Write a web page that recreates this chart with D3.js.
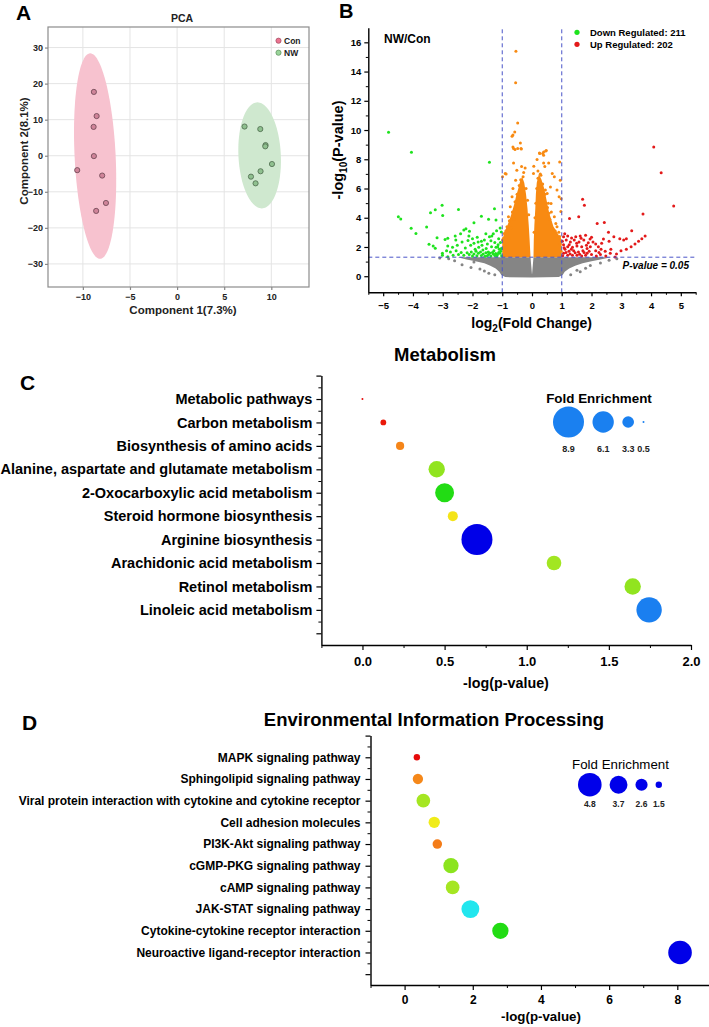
<!DOCTYPE html>
<html>
<head>
<meta charset="utf-8">
<script src="https://cdn.jsdelivr.net/npm/d3@7"></script>
<style>
  body { margin: 0; background: #fff; }
  svg { display: block; }
</style>
</head>
<body>
<svg id="fig" width="709" height="1027"></svg>
<script>
// ---------- data: A (PCA scores) ----------
const pcaCon = [[-8.83,17.7],[-8.54,11.0],[-8.86,8.0],[-8.83,-0.1],[-10.6,-4.0],[-7.95,-5.5],[-7.55,-13.1],[-8.59,-15.3]];
const pcaNW = [[7.16,8.1],[8.83,7.4],[9.39,2.96],[9.36,2.6],[10.07,-2.3],[8.86,-4.3],[7.84,-5.8],[8.33,-7.65]];
// confidence ellipses (centre, semi axes, lean of the long axis), in score units
const pcaEllipses = [
  {group: 'Con', cx: -8.7, cy: -0.1, rx: 2.18, ry: 28.5, lean: -0.52},
  {group: 'NW', cx: 8.76, cy: 0.1, rx: 2.25, ry: 14.7, lean: -0.23}
];
const pcaXTicks = [-10, -5, 0, 5, 10];
const pcaYTicks = [-30, -20, -10, 0, 10, 20, 30];

// ---------- data: B (volcano) ----------
const downRegulated = [[-4.82,9.84],[-4.05,8.48],[-1.43,7.8],[-4.49,4.07],[-4.41,3.92],[-4.06,3.28],[-3.9,2.93],[-3.54,3.37],
  [-3.41,4.35],[-3.25,4.55],[-3.02,4.86],[-3.0,4.16],[-2.47,4.57],[-3.46,2.19],[-3.32,2.07],[-3.19,2.64],[-3.01,1.57],[-2.83,2.07],
  [-2.83,2.6],[-2.58,2.75],[-2.56,2.48],[-2.29,3.16],[-2.22,3.25],[-2.1,3.07],[-2.12,2.75],[-2.0,2.57],[-1.95,3.66],[-1.7,4.11],
  [-1.46,3.89],[-1.26,4.61],[-1.21,3.84],[-1.19,3.11],[-1.84,2.66],[-1.81,2.34],[-1.6,2.48],[-1.43,2.7],[-1.38,2.43],[-1.35,2.75],
  [-2.35,2.34],[-2.51,2.11],[-2.67,1.98],[-3.25,1.91],[-2.87,1.75],[-2.74,1.66],[-2.24,1.93],[-2.06,2.11],[-1.91,1.84],[-1.79,1.98],
  [-1.68,2.11],[-1.65,1.8],[-1.54,1.89],[-1.47,1.66],[-1.36,2.02],[-1.28,1.75],[-1.21,1.98],[-1.14,2.16],[-1.1,1.84],[-1.08,1.57],
  [-1.16,1.48],[-1.3,1.52],[-1.46,1.48],[-1.64,1.52],[-1.8,1.57],[-1.95,1.52],[-2.11,1.48],[-2.29,1.43],[-2.47,1.48],[-2.65,1.43],
  [-2.83,1.34],[-3.01,1.43],[-1.06,2.3],[-1.12,2.57],[-1.03,3.02],[-1.07,3.29],[-2.92,2.52],[-1.02,1.4],[-1.05,1.7],[-1.12,1.62],
  [-1.18,1.38],[-1.22,1.55],[-1.25,1.42],[-1.33,1.62],[-1.38,1.38],[-1.42,1.58],[-1.5,1.4],[-1.55,1.6],[-1.58,1.36],[-1.7,1.42],
  [-1.73,1.66],[-1.85,1.4],[-1.88,1.7],[-2.0,1.38],[-2.04,1.65],[-2.18,1.6],[-2.38,1.62],[-2.55,1.75],[-1.03,1.9],[-1.15,2.0],
  [-1.25,2.3],[-1.5,2.2],[-1.7,2.4],[-1.95,2.25],[-2.15,2.45],[-1.3,2.9],[-1.55,2.9],[-2.4,2.9]];
const upRegulated = [[4.09,8.84],[4.34,7.07],[4.76,4.8],[3.73,4.25],[1.7,5.27],[1.76,4.86],[1.26,3.95],[1.57,4.07],[2.19,3.61],
  [2.43,3.68],[3.35,3.11],[2.57,3.0],[2.75,2.7],[3.08,2.48],[3.17,2.57],[3.8,2.75],[3.69,2.57],[3.58,2.39],[3.46,2.2],[3.33,2.02],
  [3.17,1.84],[2.99,1.75],[2.84,1.52],[2.79,1.32],[2.63,1.57],[2.46,1.7],[2.32,1.84],[2.23,2.02],[2.14,1.75],[2.05,2.34],[2.0,2.66],
  [1.8,2.8],[1.62,2.75],[1.47,2.7],[1.33,2.61],[1.2,2.75],[1.06,2.7],[1.15,2.48],[1.29,2.34],[1.42,2.48],[1.58,2.34],[1.74,2.48],
  [1.89,2.29],[1.96,2.02],[1.83,2.11],[1.67,2.02],[1.51,2.07],[1.36,1.98],[1.2,2.02],[1.06,2.16],[1.11,1.84],[1.24,1.7],[1.4,1.75],
  [1.56,1.66],[1.71,1.75],[1.85,1.57],[2.0,1.48],[2.16,1.39],[2.3,1.48],[2.48,1.39],[1.06,1.57],[1.2,1.43],[1.36,1.43],[1.51,1.43],
  [1.67,1.39],[1.8,1.43],[1.85,1.89],[2.14,2.2],[2.34,2.25],[2.59,2.39],[2.95,2.57],[1.03,1.4],[1.08,1.95],[1.14,1.62],[1.28,1.52],
  [1.32,1.85],[1.45,1.6],[1.6,1.5],[1.75,1.62],[1.92,1.7],[1.02,2.4],[1.1,2.9],[1.25,2.15],[1.5,2.25],[1.65,2.6],[1.95,2.55],
  [2.25,1.62],[2.65,1.85],[2.4,2.55]];
// significant but |log2FC| < 1
const sigSmallFC = [[-0.54,15.39],[-0.55,13.23],[-0.48,10.48],[-0.64,9.66],[-0.58,9.86],[-0.67,9.57],[-0.39,9.11],[-0.64,8.84],
  [-0.57,8.66],[-0.36,8.7],[-0.62,8.73],[-0.48,8.73],[-0.37,8.73],[-0.62,7.75],[-0.9,7.02],[-0.99,6.8],[-0.51,7.25],[-0.35,7.5],
  [-0.55,6.56],[-0.67,5.43],[-0.79,4.07],[-0.84,3.39],[-0.93,2.93],[-0.99,2.48],[-0.73,4.75],[-0.64,6.0],[-0.87,7.0],[-0.23,7.4],
  [0.25,8.43],[0.36,8.39],[0.46,8.57],[0.39,8.5],[0.48,8.6],[0.26,8.39],[0.39,8.27],[0.17,7.98],[0.39,7.75],[0.06,7.52],[0.68,7.02],
  [0.75,6.8],[0.93,7.82],[0.95,6.56],[0.84,5.89],[0.91,5.43],[0.97,4.43],[0.62,6.11],[0.51,5.66],[0.64,4.98],[0.75,4.07],[0.84,3.39],
  [0.93,2.71],[0.73,3.16],[0.57,4.3],[0.56,7.75],[0.43,7.5],[0.05,7.03],[0.98,5.3],[-0.85,2.0],[-0.9,1.6],[-0.78,2.6],[-0.7,3.3],
  [-0.6,3.9],[-0.5,4.6],[-0.45,5.2],[-0.3,6.8],[-0.28,7.1],[0.2,7.2],[0.3,6.9],[0.45,5.9],[0.55,5.0],[0.65,4.4],[0.8,3.6],[0.9,3.0],
  [0.95,2.2],[0.98,1.7],[-0.98,1.9],[-0.96,2.6],[-0.88,3.1],[-0.76,3.8],[-0.66,4.4],[-0.57,5.1],[-0.5,5.6],[-0.43,6.2],[-0.38,6.6],
  [-0.2,6.0],[-0.15,5.2],[-0.11,4.2],[0.07,3.0],[0.1,4.0],[0.13,5.0],[0.16,6.0],[0.2,6.7],[0.28,7.0],[0.36,6.3],[0.44,5.6],
  [0.52,4.7],[0.6,3.9],[0.78,3.1],[0.92,2.6]];
const notSig = [[-2.6,1.06],[-2.35,0.79],[-1.95,0.97],[-2.05,0.6],[-1.75,0.5],[-1.6,0.35],[-1.45,0.2],[-2.8,1.2],[-3.1,1.25],
  [2.19,1.27],[2.59,1.1],[1.96,0.74],[1.62,0.3],[1.51,0.4],[2.3,0.9],[2.85,1.2],[1.8,0.55],[1.3,0.1],[-1.25,0.1]];
// outlines of the areas where points are too dense to separate
const notSigCloud = [[-2.5,1.3],[-2.2,1.15],[-1.9,1.02],[-1.6,0.88],[-1.4,0.72],[-1.22,0.52],[-1.1,0.3],[-1.03,0.08],[-0.9,-0.06],
  [0,-0.08],[0.9,-0.06],[1.03,0.08],[1.1,0.3],[1.25,0.52],[1.45,0.72],[1.7,0.88],[2.0,1.02],[2.3,1.15],[2.65,1.3],[0.05,1.3],[0,0.1],[-0.05,1.3]];
const sigCloudLeft = [[-1.0,1.3],[-1.0,2.4],[-0.93,3.0],[-0.82,3.5],[-0.7,4.2],[-0.6,4.9],[-0.53,5.5],[-0.46,6.0],[-0.4,6.5],
  [-0.33,6.8],[-0.26,6.4],[-0.2,5.6],[-0.15,4.6],[-0.11,3.5],[-0.08,2.5],[-0.05,1.3]];
const sigCloudRight = [[0.05,1.3],[0.06,2.5],[0.08,3.5],[0.11,4.6],[0.13,5.6],[0.16,6.4],[0.23,7.0],[0.32,6.6],[0.41,6.0],
  [0.49,5.2],[0.58,4.3],[0.72,3.4],[0.87,2.9],[0.99,2.5],[1.0,1.3]];
const fcCut = [-1, 1];
const pCut = -Math.log10(0.05);

// ---------- data: C (metabolism enrichment) ----------
const metabPathways = ['Metabolic pathways','Carbon metabolism','Biosynthesis of amino acids',
  'Alanine, aspartate and glutamate metabolism','2-Oxocarboxylic acid metabolism','Steroid hormone biosynthesis',
  'Arginine biosynthesis','Arachidonic acid metabolism','Retinol metabolism','Linoleic acid metabolism'];
const metabLogP = [0.0, 0.127, 0.229, 0.452, 0.5, 0.55, 0.697, 1.166, 1.645, 1.745];
const metabFold = [0.5, 1.6, 2.3, 4.67, 5.4, 2.82, 8.9, 4.15, 4.67, 7.28];
const metabLegend = [8.9, 6.1, 3.3, 0.5];
const metabXTicks = [0, 0.5, 1.0, 1.5, 2.0];

// ---------- data: D (environmental information processing) ----------
const envPathways = ['MAPK signaling pathway','Sphingolipid signaling pathway',
  'Viral protein interaction with cytokine and cytokine receptor','Cell adhesion molecules','PI3K-Akt signaling pathway',
  'cGMP-PKG signaling pathway','cAMP signaling pathway','JAK-STAT signaling pathway',
  'Cytokine-cytokine receptor interaction','Neuroactive ligand-receptor interaction'];
const envLogP = [0.36, 0.39, 0.55, 0.87, 0.96, 1.36, 1.41, 1.93, 2.81, 8.08];
const envFold = [1.5, 2.25, 2.9, 2.45, 2.1, 3.2, 2.9, 3.7, 3.4, 4.8];
const envLegend = [4.8, 3.7, 2.6, 1.5];
const envXTicks = [0, 2, 4, 6, 8];

// ---------------------------------------------------------------
var
  FONT = '"Liberation Sans", Arial, Helvetica, sans-serif',
  svg = d3.select('#fig'),
  rainbow = d3.scaleLinear()
    .domain([0, .14, .18, .23, .28, .42, .52, .57, .62, .66, .7, .8, .85, 1])
    .range(['#e60a0a','#ea1a0a','#f47c18','#f5891a','#f4ec18','#a6e622','#8ae41e','#22dc14','#22dc14',
            '#22e6ee','#22e6ee','#1a7ff0','#1a7ff0','#0000e8'])
    .clamp(true);

function txt(g, s, x, y, size, weight, anchor) {
  return g.append('text')
    .attr('x', x).attr('y', y)
    .attr('font-family', FONT)
    .attr('font-size', size)
    .attr('font-weight', weight || 'bold')
    .attr('text-anchor', anchor || 'start')
    .attr('fill', '#000')
    .text(s);
}

function styleAxis(g, size, color) {
  g.attr('font-family', null).attr('font-size', null);
  g.select('.domain').attr('stroke', '#000').attr('stroke-width', 1.4);
  g.selectAll('.tick line').attr('stroke', '#000').attr('stroke-width', 1.2);
  g.selectAll('.tick text')
    .attr('font-family', FONT)
    .attr('font-size', size)
    .attr('font-weight', 'bold')
    .attr('fill', color || '#000');
  return g;
}

function minorTicks(g, axisFn, scale, vals, size) {
  g.append('g').call(axisFn(scale).tickValues(vals).tickSize(size).tickFormat(''))
    .call(a => a.select('.domain').remove())
    .selectAll('.tick line').attr('stroke', '#000').attr('stroke-width', 1);
}

// ================= A: PCA =================
(function pca() {
  var
    xA = d3.scaleLinear().domain([-13.7, 14]).range([48, 309]),
    yA = d3.scaleLinear().domain([-36.4, 35.7]).range([287, 27]),
    g = svg.append('g'),
    fills = {Con: '#f7c2cf', NW: '#cfe8cf'};

  g.selectAll('.gx').data(pcaXTicks).enter().append('line')
    .attr('x1', d => xA(d)).attr('x2', d => xA(d)).attr('y1', yA.range()[0]).attr('y2', yA.range()[1])
    .attr('stroke', '#e4e4e4').attr('stroke-width', 1);
  g.selectAll('.gy').data(pcaYTicks).enter().append('line')
    .attr('y1', d => yA(d)).attr('y2', d => yA(d)).attr('x1', xA.range()[0]).attr('x2', xA.range()[1])
    .attr('stroke', '#e4e4e4').attr('stroke-width', 1);

  var ell = d3.line().curve(d3.curveLinearClosed);
  g.selectAll('.ell').data(pcaEllipses).enter().append('path')
    .attr('d', e => ell(d3.range(0, 2 * Math.PI, Math.PI / 60).map(t =>
      [xA(e.cx + e.rx * Math.cos(t) + e.lean * Math.sin(t)), yA(e.cy + e.ry * Math.sin(t))])))
    .attr('fill', e => fills[e.group]);

  g.selectAll('.con').data(pcaCon).enter().append('circle')
    .attr('cx', d => xA(d[0])).attr('cy', d => yA(d[1])).attr('r', 2.6)
    .attr('fill', '#cf8499').attr('stroke', '#6a4450').attr('stroke-width', 0.8);
  g.selectAll('.nw').data(pcaNW).enter().append('circle')
    .attr('cx', d => xA(d[0])).attr('cy', d => yA(d[1])).attr('r', 2.6)
    .attr('fill', '#8fc08f').attr('stroke', '#4d6a4d').attr('stroke-width', 0.8);

  g.append('rect').attr('x', 48).attr('y', 27).attr('width', 261).attr('height', 260)
    .attr('fill', 'none').attr('stroke', '#8c8c8c').attr('stroke-width', 1.2);

  styleAxis(g.append('g').attr('transform', 'translate(48,0)')
    .call(d3.axisLeft(yA).tickValues(pcaYTicks).tickSize(3).tickPadding(2).tickSizeOuter(0)), 9, '#222')
    .call(a => a.select('.domain').remove())
    .selectAll('.tick line').attr('stroke', '#888');
  styleAxis(g.append('g').attr('transform', 'translate(0,287)')
    .call(d3.axisBottom(xA).tickValues(pcaXTicks).tickSize(3).tickPadding(4).tickSizeOuter(0)), 9, '#222')
    .call(a => a.select('.domain').remove())
    .selectAll('.tick line').attr('stroke', '#888');

  txt(g, 'A', 16, 20, 21, 'bold');
  txt(g, 'PCA', 182, 22, 10.5, 'bold', 'middle').attr('fill', '#222');
  txt(g, 'Component 1(7.3%)', 183, 314, 11.5, 'bold', 'middle').attr('fill', '#222');
  txt(g, 'Component 2(8.1%)', 0, 0, 11.5, 'bold', 'middle').attr('fill', '#222')
    .attr('transform', 'translate(28,151) rotate(-90)');

  var leg = g.append('g');
  leg.append('circle').attr('cx', 278.5).attr('cy', 40.7).attr('r', 2.6)
    .attr('fill', '#ec7390').attr('stroke', '#9c4a5e').attr('stroke-width', 0.7);
  leg.append('circle').attr('cx', 278.5).attr('cy', 52.7).attr('r', 2.6)
    .attr('fill', '#9ad59a').attr('stroke', '#5c8c5c').attr('stroke-width', 0.7);
  txt(leg, 'Con', 284, 43.8, 8.5, 'bold').attr('fill', '#222');
  txt(leg, 'NW', 284, 55.8, 8.5, 'bold').attr('fill', '#222');
})();

// ================= B: volcano =================
(function volcano() {
  var
    xB = d3.scaleLinear().domain([-5.5, 5.5]).range([368.3, 695.7]),
    yB = d3.scaleLinear().domain([-1.1, 17]).range([292.3, 27.7]),
    g = svg.append('g'),
    cloud = d3.line().x(d => xB(d[0])).y(d => yB(d[1])).curve(d3.curveLinearClosed),
    dots = (data, color) => g.append('g').selectAll('circle').data(data).enter().append('circle')
      .attr('cx', d => xB(d[0])).attr('cy', d => yB(d[1])).attr('r', 1.5).attr('fill', color);

  g.append('path').attr('d', cloud(notSigCloud)).attr('fill', '#858585');
  dots(notSig, '#858585');
  g.append('path').attr('d', cloud(sigCloudLeft)).attr('fill', '#f88a12');
  g.append('path').attr('d', cloud(sigCloudRight)).attr('fill', '#f88a12');
  dots(sigSmallFC, '#f88a12');
  dots(downRegulated, '#1ee31e');
  dots(upRegulated, '#e31a1a');

  var dash = g.append('g').attr('stroke', '#4a55c8').attr('stroke-width', 1).attr('stroke-dasharray', '4,3');
  dash.selectAll('line.v').data(fcCut).enter().append('line')
    .attr('x1', d => xB(d)).attr('x2', d => xB(d)).attr('y1', yB.range()[0]).attr('y2', yB.range()[1]);
  dash.append('line').attr('x1', xB.range()[0]).attr('x2', xB.range()[1]).attr('y1', yB(pCut)).attr('y2', yB(pCut));

  var gy = g.append('g').attr('transform', 'translate(368.3,0)');
  gy.call(d3.axisLeft(yB).tickValues(d3.range(0, 17, 2)).tickSize(4).tickPadding(3).tickSizeOuter(0));
  styleAxis(gy, 9.5);
  minorTicks(gy, d3.axisLeft, yB, d3.range(1, 17, 2), 2.5);
  var gx = g.append('g').attr('transform', 'translate(0,292.3)');
  gx.call(d3.axisBottom(xB).tickValues(d3.range(-5, 6, 1)).tickSize(4).tickPadding(6).tickSizeOuter(0));
  styleAxis(gx, 9.5);
  minorTicks(gx, d3.axisBottom, xB, d3.range(-5.5, 5.6, 1), 2.5);

  txt(g, 'B', 339, 18, 20, 'bold');
  txt(g, 'NW/Con', 384, 43, 12, 'bold');
  g.append('circle').attr('cx', 577).attr('cy', 32.3).attr('r', 2.6).attr('fill', '#1ee31e');
  g.append('circle').attr('cx', 577).attr('cy', 44.3).attr('r', 2.6).attr('fill', '#e31a1a');
  txt(g, 'Down Regulated: 211', 590, 35.5, 9.5, 'bold');
  txt(g, 'Up Regulated: 202', 590, 47.5, 9.5, 'bold');
  txt(g, 'P-value = 0.05', 689, 268.5, 10, 'bold', 'end').attr('font-style', 'italic');

  var xt = txt(g, 'log', 531.7, 328, 14, 'bold', 'middle');
  xt.append('tspan').attr('font-size', 10).attr('dy', 4).text('2');
  xt.append('tspan').attr('dy', -4).text('(Fold Change)');
  var yt = txt(g, '-log', 0, 0, 14.5, 'bold', 'middle').attr('transform', 'translate(343,150) rotate(-90)');
  yt.append('tspan').attr('font-size', 10).attr('dy', 4).text('10');
  yt.append('tspan').attr('dy', -4).text('(P-value)');
})();

// ================= C & D: enrichment bubbles =================
function bubblePanel(o) {
  var
    g = svg.append('g'),
    rows = o.names.map((n, i) => ({name: n, x: o.logp[i], fold: o.fold[i], row: i + 1})),
    fExt = d3.extent(o.fold),
    rScale = d3.scaleLinear().domain(fExt).range(o.rRange),
    cScale = f => rainbow((f - fExt[0]) / (fExt[1] - fExt[0]));

  var gy = g.append('g').attr('transform', `translate(${o.x.range()[0]},0)`);
  gy.call(d3.axisLeft(o.y).tickValues(d3.range(0, 12)).tickSize(5).tickPadding(o.labelPad)
    .tickFormat(i => o.names[i - 1] || '').tickSizeOuter(0));
  styleAxis(gy, o.labelSize);
  minorTicks(gy, d3.axisLeft, o.y, d3.range(0.5, 11.5, 1), 3);

  var gx = g.append('g').attr('transform', `translate(0,${o.y.range()[1]})`);
  gx.call(d3.axisBottom(o.x).tickValues(o.xTicks).tickSize(5).tickPadding(o.tickPad)
    .tickFormat(o.xFormat).tickSizeOuter(0));
  styleAxis(gx, o.tickSize);
  minorTicks(gx, d3.axisBottom, o.x, o.xMinor, 3);

  g.selectAll('.bubble').data(rows).enter().append('circle')
    .attr('cx', d => o.x(d.x)).attr('cy', d => o.y(d.row))
    .attr('r', d => rScale(d.fold)).attr('fill', d => cScale(d.fold));

  // size legend
  var lx = o.legend.x, lg = g.append('g');
  o.legendVals.forEach(v => {
    var r = rScale(v);
    lg.append('circle').attr('cx', lx + r).attr('cy', o.legend.cy).attr('r', r).attr('fill', o.legend.color);
    txt(lg, v.toFixed(1), lx + r, o.legend.labelY, o.legend.labelSize, 'bold', 'middle').attr('fill', '#222');
    lx += 2 * r + o.legend.gap;
  });
  txt(lg, 'Fold Enrichment', o.legend.titleX, o.legend.titleY, o.legend.titleSize, o.legend.titleWeight, 'middle');

  txt(g, o.letter, o.letterX, o.letterY, 21, 'bold');
  txt(g, o.title, o.titleX, o.titleY, 18.5, 'bold', 'middle');
  txt(g, '-log(p-value)', o.xTitleX, o.xTitleY, o.xTitleSize, 'bold', 'middle');
}

bubblePanel({
  names: metabPathways, logp: metabLogP, fold: metabFold, legendVals: metabLegend,
  x: d3.scaleLinear().domain([-0.25, 2.0]).range([321.4, 691]),
  y: d3.scaleLinear().domain([0, 11.5]).range([375.6, 645]),
  rRange: [1, 15.5], labelSize: 14.5, labelPad: 4, tickSize: 13, tickPad: 7,
  xTicks: metabXTicks, xFormat: d3.format('.1f'), xMinor: [-0.25, 0.25, 0.75, 1.25, 1.75],
  legend: {x: 553, cy: 422, gap: 8.5, color: '#1a80f0', labelY: 451.5, labelSize: 9,
           titleX: 599, titleY: 403, titleSize: 13.4, titleWeight: 'bold'},
  letter: 'C', letterX: 20, letterY: 390,
  title: 'Metabolism', titleX: 445, titleY: 361,
  xTitleX: 506, xTitleY: 688, xTitleSize: 14.3
});

bubblePanel({
  names: envPathways, logp: envLogP, fold: envFold, legendVals: envLegend,
  x: d3.scaleLinear().domain([-1, 9]).range([370.5, 711.4]),
  y: d3.scaleLinear().domain([0, 11.5]).range([735.6, 985]),
  rRange: [3.2, 11.8], labelSize: 12, labelPad: 5, tickSize: 12, tickPad: 5,
  xTicks: envXTicks, xFormat: d3.format('d'), xMinor: [-1, 1, 3, 5, 7, 9],
  legend: {x: 578, cy: 784.7, gap: 8, color: '#0000ea', labelY: 807, labelSize: 8.5,
           titleX: 620.5, titleY: 769, titleSize: 13.3, titleWeight: 'normal'},
  letter: 'D', letterX: 22, letterY: 730,
  title: 'Environmental Information Processing', titleX: 434, titleY: 726,
  xTitleX: 541, xTitleY: 1021, xTitleSize: 13.3
});
</script>
</body>
</html>
